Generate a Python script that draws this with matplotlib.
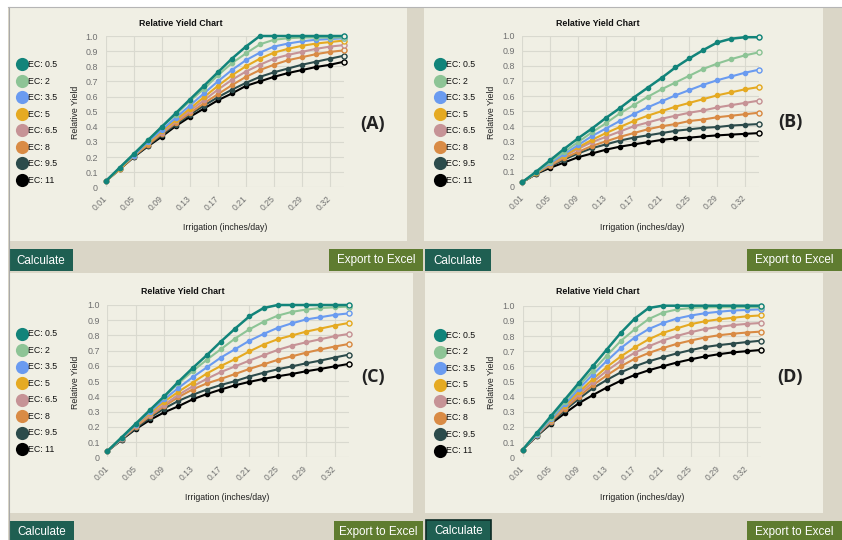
import matplotlib
matplotlib.use('Agg')
import matplotlib.pyplot as plt
from matplotlib.patches import Rectangle
import numpy as np

plt.rcParams['font.family'] = ['Liberation Sans', 'DejaVu Sans']

W, H = 842, 540

# ---------------- data ----------------
irrigation_labels = ['0.01', '0.03', '0.05', '0.07', '0.09', '0.11', '0.13', '0.15', '0.17',
                     '0.19', '0.21', '0.23', '0.25', '0.27', '0.29', '0.31', '0.32', '0.35']
ec_labels = ['EC: 0.5', 'EC: 2', 'EC: 3.5', 'EC: 5', 'EC: 6.5', 'EC: 8', 'EC: 9.5', 'EC: 11']
series_colors = ['#12847a', '#8dc496', '#6a9bf0', '#e5aa22', '#c69396', '#d98b45', '#2c4b4b', '#000000']
y_tick_values = [0, 0.1, 0.2, 0.3, 0.4, 0.5, 0.6, 0.7, 0.8, 0.9, 1.0]
y_tick_labels = ['0', '0.1', '0.2', '0.3', '0.4', '0.5', '0.6', '0.7', '0.8', '0.9', '1.0']
panel_tags = ['(A)', '(B)', '(C)', '(D)']

yield_a = [
    [0.04, 0.13, 0.22, 0.31, 0.40, 0.49, 0.58, 0.67, 0.76, 0.85, 0.93, 1.00, 1.00, 1.00, 1.00, 1.00, 1.00, 1.00],
    [0.04, 0.13, 0.22, 0.31, 0.40, 0.48, 0.57, 0.65, 0.74, 0.82, 0.885, 0.945, 0.975, 0.985, 0.99, 0.99, 0.99, 0.99],
    [0.04, 0.13, 0.21, 0.30, 0.38, 0.46, 0.54, 0.62, 0.70, 0.775, 0.84, 0.89, 0.93, 0.95, 0.965, 0.975, 0.98, 0.985],
    [0.04, 0.12, 0.21, 0.29, 0.37, 0.445, 0.52, 0.595, 0.67, 0.74, 0.80, 0.85, 0.89, 0.915, 0.935, 0.95, 0.96, 0.97],
    [0.04, 0.12, 0.21, 0.29, 0.36, 0.435, 0.505, 0.575, 0.645, 0.71, 0.765, 0.81, 0.85, 0.875, 0.895, 0.915, 0.93, 0.94],
    [0.04, 0.12, 0.205, 0.28, 0.355, 0.425, 0.49, 0.555, 0.615, 0.675, 0.73, 0.775, 0.81, 0.84, 0.86, 0.88, 0.895, 0.905],
    [0.04, 0.12, 0.20, 0.275, 0.345, 0.415, 0.48, 0.54, 0.595, 0.645, 0.69, 0.73, 0.76, 0.785, 0.81, 0.83, 0.85, 0.87],
    [0.04, 0.12, 0.20, 0.27, 0.335, 0.405, 0.465, 0.52, 0.575, 0.62, 0.67, 0.70, 0.73, 0.755, 0.775, 0.795, 0.81, 0.83],
]
yield_b = [
    [0.03, 0.10, 0.175, 0.25, 0.32, 0.385, 0.455, 0.52, 0.59, 0.655, 0.72, 0.79, 0.85, 0.905, 0.955, 0.98, 0.99, 0.99],
    [0.03, 0.095, 0.165, 0.23, 0.295, 0.36, 0.42, 0.485, 0.54, 0.595, 0.645, 0.69, 0.735, 0.78, 0.815, 0.845, 0.87, 0.89],
    [0.03, 0.095, 0.155, 0.215, 0.275, 0.335, 0.385, 0.435, 0.48, 0.525, 0.565, 0.605, 0.64, 0.675, 0.705, 0.73, 0.755, 0.775],
    [0.03, 0.09, 0.15, 0.205, 0.26, 0.31, 0.355, 0.395, 0.435, 0.47, 0.50, 0.53, 0.555, 0.58, 0.605, 0.625, 0.645, 0.66],
    [0.03, 0.09, 0.145, 0.20, 0.25, 0.295, 0.33, 0.365, 0.40, 0.425, 0.45, 0.47, 0.49, 0.505, 0.525, 0.54, 0.555, 0.57],
    [0.03, 0.09, 0.14, 0.19, 0.23, 0.27, 0.30, 0.33, 0.355, 0.38, 0.40, 0.415, 0.435, 0.445, 0.46, 0.47, 0.48, 0.49],
    [0.03, 0.085, 0.135, 0.18, 0.22, 0.255, 0.28, 0.305, 0.325, 0.34, 0.355, 0.37, 0.38, 0.39, 0.395, 0.405, 0.41, 0.415],
    [0.03, 0.085, 0.125, 0.16, 0.195, 0.22, 0.245, 0.265, 0.28, 0.295, 0.31, 0.32, 0.325, 0.333, 0.34, 0.345, 0.35, 0.355],
]
yield_c = [
    [0.04, 0.13, 0.22, 0.31, 0.40, 0.495, 0.585, 0.67, 0.76, 0.845, 0.925, 0.98, 1.00, 1.00, 1.00, 1.00, 1.00, 1.00],
    [0.04, 0.13, 0.22, 0.31, 0.395, 0.485, 0.565, 0.64, 0.71, 0.78, 0.84, 0.89, 0.93, 0.955, 0.97, 0.98, 0.985, 0.99],
    [0.04, 0.125, 0.215, 0.30, 0.38, 0.455, 0.525, 0.59, 0.655, 0.71, 0.765, 0.81, 0.85, 0.88, 0.905, 0.92, 0.935, 0.945],
    [0.04, 0.125, 0.21, 0.29, 0.365, 0.43, 0.49, 0.55, 0.60, 0.645, 0.695, 0.74, 0.775, 0.80, 0.825, 0.845, 0.865, 0.882],
    [0.04, 0.12, 0.205, 0.28, 0.345, 0.41, 0.465, 0.515, 0.56, 0.597, 0.635, 0.67, 0.705, 0.733, 0.755, 0.775, 0.795, 0.81],
    [0.04, 0.12, 0.20, 0.27, 0.335, 0.395, 0.445, 0.485, 0.515, 0.547, 0.58, 0.61, 0.64, 0.663, 0.687, 0.708, 0.727, 0.744],
    [0.04, 0.115, 0.19, 0.26, 0.32, 0.37, 0.41, 0.445, 0.475, 0.50, 0.53, 0.555, 0.578, 0.597, 0.617, 0.635, 0.655, 0.674],
    [0.04, 0.115, 0.185, 0.245, 0.295, 0.335, 0.38, 0.415, 0.445, 0.473, 0.495, 0.515, 0.532, 0.547, 0.565, 0.58, 0.597, 0.613],
]
yield_d = [
    [0.05, 0.16, 0.27, 0.38, 0.49, 0.60, 0.71, 0.82, 0.915, 0.985, 1.00, 1.00, 1.00, 1.00, 1.00, 1.00, 1.00, 1.00],
    [0.05, 0.155, 0.26, 0.365, 0.47, 0.57, 0.67, 0.767, 0.844, 0.912, 0.954, 0.975, 0.985, 0.99, 0.99, 0.99, 0.99, 0.99],
    [0.05, 0.15, 0.25, 0.35, 0.45, 0.545, 0.635, 0.72, 0.79, 0.846, 0.885, 0.915, 0.935, 0.95, 0.96, 0.968, 0.972, 0.976],
    [0.05, 0.15, 0.245, 0.34, 0.43, 0.515, 0.595, 0.665, 0.725, 0.778, 0.82, 0.85, 0.878, 0.897, 0.91, 0.92, 0.93, 0.936],
    [0.05, 0.145, 0.24, 0.33, 0.415, 0.495, 0.57, 0.635, 0.69, 0.732, 0.77, 0.80, 0.825, 0.846, 0.86, 0.872, 0.88, 0.886],
    [0.05, 0.145, 0.235, 0.32, 0.40, 0.475, 0.54, 0.60, 0.65, 0.688, 0.72, 0.748, 0.77, 0.79, 0.805, 0.815, 0.823, 0.829],
    [0.05, 0.14, 0.225, 0.31, 0.385, 0.455, 0.51, 0.56, 0.60, 0.633, 0.66, 0.685, 0.707, 0.727, 0.74, 0.75, 0.76, 0.769],
    [0.05, 0.14, 0.22, 0.29, 0.356, 0.41, 0.46, 0.505, 0.543, 0.574, 0.60, 0.625, 0.646, 0.665, 0.68, 0.692, 0.70, 0.708],
]
panel_data = [yield_a, yield_b, yield_c, yield_d]

# ---------------- layout (pixels) ----------------
PANEL_BG = '#f0efe4'
BAND_BG = '#dad6c7'
CALC_C = '#1f5f52'
EXPORT_C = '#5f7c30'

plot_boxes = [(105.7, 344.0, 36.0, 187.3),
              (522.3, 759.0, 35.7, 186.7),
              (107.3, 348.7, 305.0, 457.3),
              (522.7, 760.7, 305.7, 457.3)]
panel_rects = [(9, 7, 407, 241), (424, 7, 823, 241), (9, 273, 413, 513), (425, 273, 823, 513)]
title_pos = [(181, 23), (598, 23), (183, 292), (598, 292)]
ylab_pos = [(75, 112), (491, 112), (75, 382), (491, 382)]
xlab_pos = [(225, 227), (642, 227), (227, 498), (642, 498)]
tag_pos = [(373, 124), (790, 122), (373, 377), (790, 377)]
legend_x = [22, 440, 22, 440]
legend_y0 = [64.3, 64.3, 333.5, 335.0]
legend_dy = 16.5

fig = plt.figure(figsize=(W / 100, H / 100), dpi=100)
fig.patch.set_facecolor('white')
bg = fig.add_axes([0, 0, 1, 1])
bg.set_xlim(0, W)
bg.set_ylim(H, 0)
bg.axis('off')


def rect(x0, y0, x1, y1, color, **kw):
    bg.add_patch(Rectangle((x0, y0), x1 - x0, y1 - y0, facecolor=color,
                           edgecolor=kw.pop('ec', 'none'), **kw))


rect(8, 7, W, H, BAND_BG)
bg.plot([8.5, 8.5], [7, H], color='#a9a9a9', lw=0.8)
bg.plot([8, W], [6.5, 6.5], color='#b5b5b5', lw=0.8)
for (x0, y0, x1, y1) in panel_rects:
    rect(x0, y0, x1, y1, PANEL_BG)

# buttons: x0, y0, x1, y1, colour, label, text y
buttons = [(9, 249, 73, 271, CALC_C, 'Calculate', 260.5),
           (329, 249, 423, 271, EXPORT_C, 'Export to Excel', 260.5),
           (425, 249, 491, 271, CALC_C, 'Calculate', 260.5),
           (747, 249, 842, 271, EXPORT_C, 'Export to Excel', 260.5),
           (9, 521, 74, 545, CALC_C, 'Calculate', 532),
           (334, 521, 423, 545, EXPORT_C, 'Export to Excel', 532),
           (426, 520, 491, 545, CALC_C, 'Calculate', 531),
           (747, 521, 842, 545, EXPORT_C, 'Export to Excel', 532)]
for i, (x0, y0, x1, y1, c, t, ty) in enumerate(buttons):
    if i == 6:
        rect(x0, y0, x1, y1, c, ec='#0c2b25', lw=1.2)
    else:
        rect(x0, y0, x1, y1, c)
    bg.text((x0 + x1) / 2, ty, t, color='white', fontsize=8.4, ha='center', va='center')

x_idx = np.arange(len(irrigation_labels))

for p in range(4):
    xa, xb, y1px, y0px = plot_boxes[p]
    ax = fig.add_axes([xa / W, 1 - y0px / H, (xb - xa) / W, (y0px - y1px) / H])
    ax.set_facecolor('none')
    data = panel_data[p]
    for k in range(len(ec_labels) - 1, -1, -1):
        vals = data[k]
        lw = 1.8 if k == 0 else 1.5
        ax.plot(x_idx, vals, color=series_colors[k], lw=lw, marker='o', ms=3.0,
                mec=series_colors[k], mfc=series_colors[k], clip_on=False, zorder=3 + (8 - k) * 0.1)
        ax.plot(x_idx[-1:], vals[-1:], ls='none', marker='o', ms=3.6, mec=series_colors[k],
                mfc=PANEL_BG, mew=1.0, clip_on=False, zorder=4)
    ax.set_xlim(0, len(irrigation_labels) - 1)
    ax.set_ylim(0, 1)
    ax.set_yticks(y_tick_values)
    ax.set_yticklabels(y_tick_labels)
    ax.set_xticks(x_idx[::2])
    ax.set_xticklabels(irrigation_labels[::2], rotation=45, ha='right', va='center',
                       rotation_mode='anchor')
    ax.tick_params(axis='y', length=0, pad=5.5, labelsize=6.4, labelcolor='#707070')
    ax.tick_params(axis='x', length=0, pad=7, labelsize=6.2, labelcolor='#707070')
    ax.grid(True, color='#d9d9cf', lw=0.8)
    ax.set_axisbelow(True)
    for s in ax.spines.values():
        s.set_visible(False)

    tx, ty = title_pos[p]
    bg.text(tx, ty, 'Relative Yield Chart', fontsize=6.4, fontweight='bold', ha='center',
            va='center', color='#111111')
    lx, ly = ylab_pos[p]
    bg.text(lx, ly, 'Relative Yield', fontsize=6.3, rotation=90, ha='center', va='center',
            color='#222222')
    xx, xy = xlab_pos[p]
    bg.text(xx, xy, 'Irrigation (inches/day)', fontsize=6.3, ha='center', va='center',
            color='#222222')
    gx, gy = tag_pos[p]
    bg.text(gx, gy, panel_tags[p], fontsize=13, ha='center', va='center', color='#222222',
            family=['Open Sans', 'DejaVu Sans'], fontweight='bold')
    for k, lab in enumerate(ec_labels):
        yy = legend_y0[p] + k * legend_dy
        bg.scatter([legend_x[p]], [yy], s=90, color=series_colors[k], zorder=3, linewidths=0)
        bg.text(legend_x[p] + 6.5, yy + 0.3, lab, fontsize=6.3, ha='left', va='center',
                color='#111111', zorder=4)

fig.savefig('out.png', dpi=100, facecolor=fig.get_facecolor())
